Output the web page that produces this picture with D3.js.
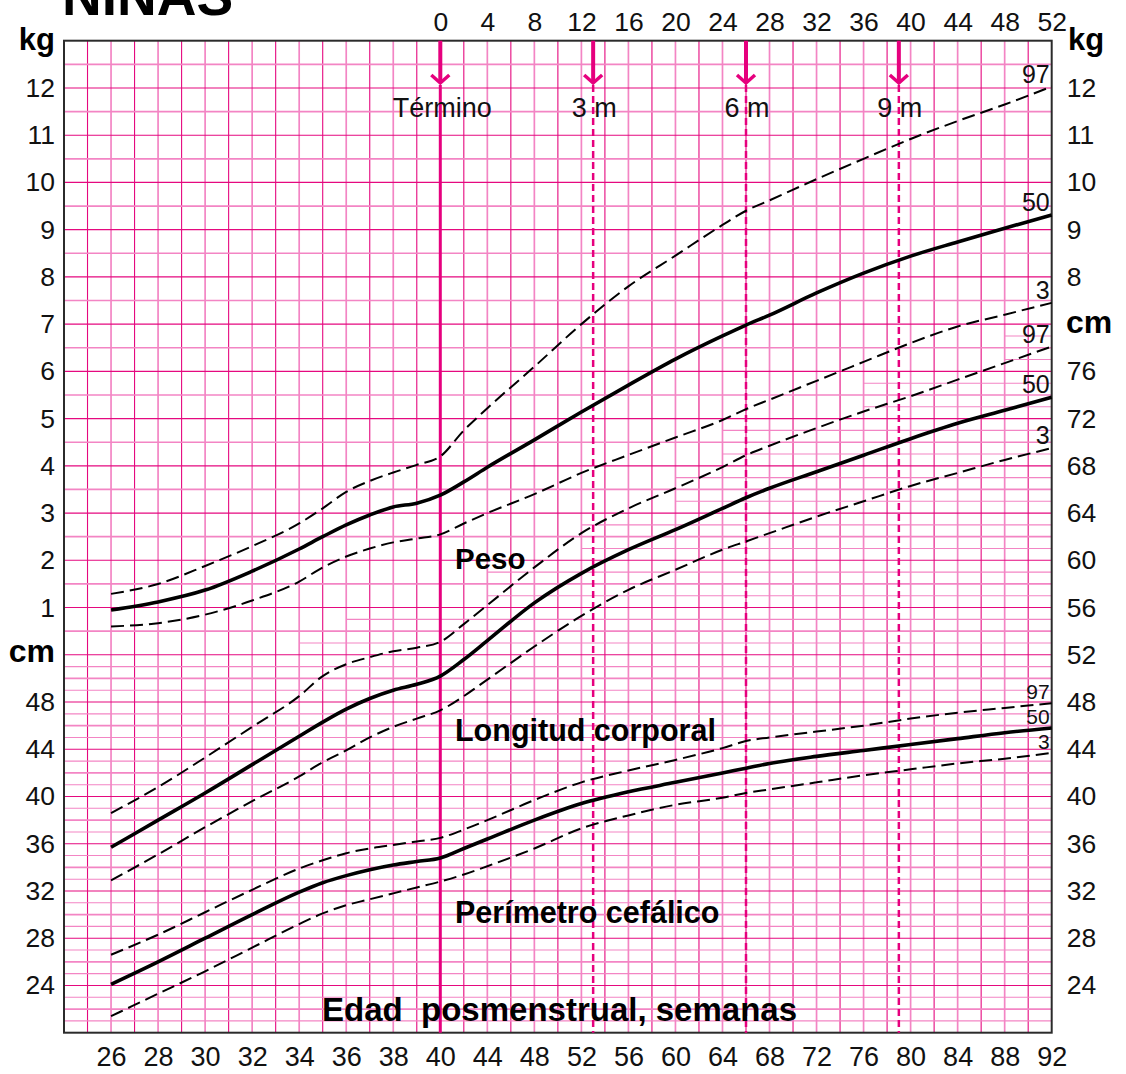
<!DOCTYPE html>
<html>
<head>
<meta charset="utf-8">
<script src="https://cdn.jsdelivr.net/npm/d3@7"></script>
<style>
  body { margin: 0; background: #fff; }
  svg { display: block; font-family: "Liberation Sans", Arial, Helvetica, sans-serif; }
  text { white-space: pre; }
</style>
</head>
<body>
<svg id="chart" width="1126" height="1074"></svg>
<script>
const weeks = [26, 28, 30, 32, 34, 35, 36, 37, 38, 39, 40, 42, 44, 48, 52, 56, 60, 64, 66, 68, 72, 76, 80, 84, 88, 92];

// weight, kg
const weightP97 = [1.29, 1.50, 1.88, 2.30, 2.78, 3.10, 3.45, 3.68, 3.86, 4.02, 4.20, 4.75, 5.22, 6.10, 7.00, 7.80, 8.45, 9.10, 9.40, 9.62, 10.07, 10.50, 10.92, 11.30, 11.65, 12.03];
const weightP50 = [0.95, 1.12, 1.37, 1.77, 2.24, 2.50, 2.75, 2.96, 3.13, 3.21, 3.38, 3.66, 3.97, 4.55, 5.14, 5.71, 6.26, 6.75, 6.98, 7.19, 7.66, 8.08, 8.44, 8.74, 9.03, 9.31];
const weightP3  = [0.60, 0.67, 0.85, 1.15, 1.55, 1.85, 2.08, 2.25, 2.38, 2.46, 2.55, 2.78, 3.00, 3.40, 3.85, 4.23, 4.60, 4.97, 5.20, 5.40, 5.80, 6.20, 6.60, 6.95, 7.20, 7.45];

// length, cm
const lengthP97 = [38.6, 40.8, 43.3, 45.9, 48.5, 50.2, 51.2, 51.8, 52.3, 52.6, 53.1, 54.6, 56.2, 59.4, 62.3, 64.4, 66.1, 67.9, 68.9, 69.7, 71.2, 72.6, 73.9, 75.3, 76.7, 78.1];
const lengthP50 = [35.7, 38.0, 40.3, 42.7, 45.1, 46.3, 47.4, 48.3, 49.0, 49.5, 50.2, 51.6, 53.2, 56.4, 58.9, 60.9, 62.6, 64.4, 65.3, 66.1, 67.5, 68.9, 70.3, 71.6, 72.7, 73.8];
const lengthP3  = [32.9, 35.1, 37.4, 39.6, 41.7, 42.9, 43.9, 45.0, 45.9, 46.6, 47.3, 48.5, 49.9, 52.7, 55.3, 57.5, 59.2, 60.9, 61.6, 62.3, 63.7, 65.0, 66.3, 67.4, 68.5, 69.5];

// head circumference, cm
const headP97 = [26.6, 28.3, 30.2, 32.1, 33.9, 34.6, 35.2, 35.6, 35.9, 36.2, 36.5, 37.2, 38.0, 39.7, 41.2, 42.2, 43.1, 44.1, 44.7, 45.0, 45.5, 46.0, 46.6, 47.1, 47.5, 47.9];
const headP50 = [24.1, 26.0, 28.0, 30.0, 31.9, 32.7, 33.3, 33.8, 34.2, 34.5, 34.8, 35.6, 36.4, 38.0, 39.4, 40.4, 41.2, 42.0, 42.4, 42.8, 43.4, 43.9, 44.4, 44.9, 45.4, 45.8];
const headP3  = [21.4, 23.3, 25.2, 27.2, 29.2, 30.1, 30.8, 31.3, 31.8, 32.3, 32.8, 33.4, 34.1, 35.6, 37.3, 38.4, 39.3, 39.9, 40.3, 40.6, 41.2, 41.8, 42.3, 42.8, 43.2, 43.7];

// tick labels
const bottomTicks = [26, 28, 30, 32, 34, 36, 38, 40, 44, 48, 52, 56, 60, 64, 68, 72, 76, 80, 84, 88, 92];
const topTicks = d3.range(0, 53, 4);
const kgTicksLeft = d3.range(1, 13);
const kgTicksRight = [8, 9, 10, 11, 12];
const cmTicksLeft = [24, 28, 32, 36, 40, 44, 48];
const cmTicksRight = d3.range(24, 77, 4);

// weeks after term for the age markers
const markerLabels = ['Término', '3 m', '6 m', '9 m'];
const markerWeeks = [0, 13, 26, 39];

// extra 1-cm lines inside the weight area: first week, cm
const fineWeeks = [34, 36, 44, 44, 52, 52, 60, 60, 64, 64, 76, 76, 88, 88];
const fineCm    = [53, 55, 57, 59, 61, 63, 65, 67, 69, 71, 73, 75, 77, 79];

// ---------------------------------------------------------------
const plotL = 64, plotR = 1051.7, plotT = 40.7, plotB = 1032.7;
const DARK = '#e5097f', LIGHT = '#f385c4', MAG = '#e6007e';

const svg = d3.select('#chart');

const x = d3.scaleLinear().domain([24, 40, 92]).range([plotL, 440.3, plotR]);
const xTerm = d3.scaleLinear().domain([0, 52]).range([x(40), plotR]);
const yKg = d3.scaleLinear().domain([0, 13]).range([654.8, plotT]);
const yCm = d3.scaleLinear().domain([20, 52]).range([plotB, 654.8]);

// grid ----------------------------------------------------------
const grid = svg.append('g');

const isLightV = d => d < 40 ? d % 2 === 0 : d % 4 === 0;
const vLines = d3.range(25, 40).concat(d3.range(42, 91, 2));
grid.selectAll('line.v')
  .data(vLines)
  .join('line')
  .attr('x1', d => x(d)).attr('x2', d => x(d))
  .attr('y1', plotT).attr('y2', plotB)
  .attr('stroke', d => isLightV(d) ? LIGHT : DARK)
  .attr('stroke-width', d => isLightV(d) ? 1.7 : 1.1);

const kgLines = d3.range(0, 13, 0.5);
grid.selectAll('line.kg')
  .data(kgLines)
  .join('line')
  .attr('x1', plotL).attr('x2', plotR)
  .attr('y1', d => yKg(d)).attr('y2', d => yKg(d))
  .attr('stroke', d => Number.isInteger(d) ? DARK : LIGHT)
  .attr('stroke-width', d => Number.isInteger(d) ? 1.1 : 1.7);

const cmLines = d3.range(21, 52);
grid.selectAll('line.cm')
  .data(cmLines)
  .join('line')
  .attr('x1', plotL).attr('x2', plotR)
  .attr('y1', d => yCm(d)).attr('y2', d => yCm(d))
  .attr('stroke', d => d % 4 === 0 ? DARK : LIGHT)
  .attr('stroke-width', d => d % 4 === 0 ? 1.1 : (d % 2 === 0 ? 1.7 : 1.1));

grid.selectAll('line.fine')
  .data(fineCm.map((c, i) => ({ c, w: fineWeeks[i] })))
  .join('line')
  .attr('x1', d => x(d.w)).attr('x2', plotR)
  .attr('y1', d => yCm(d.c)).attr('y2', d => yCm(d.c))
  .attr('stroke', LIGHT)
  .attr('stroke-width', 1.1);

svg.append('rect')
  .attr('x', plotL).attr('y', plotT)
  .attr('width', plotR - plotL).attr('height', plotB - plotT)
  .attr('fill', 'none').attr('stroke', '#2b2b2b').attr('stroke-width', 2);

// age markers ---------------------------------------------------
const markers = svg.append('g');
markerWeeks.forEach((w, i) => {
  const mx = xTerm(w);
  markers.append('line')
    .attr('x1', mx).attr('x2', mx).attr('y1', plotT).attr('y2', 82)
    .attr('stroke', MAG).attr('stroke-width', 4);
  markers.append('polyline')
    .attr('points', `${mx - 9},75 ${mx},83 ${mx + 9},75`)
    .attr('fill', 'none').attr('stroke', MAG).attr('stroke-width', 3.5);
  markers.append('line')
    .attr('x1', mx).attr('x2', mx).attr('y1', 85).attr('y2', plotB)
    .attr('stroke', MAG)
    .attr('stroke-width', i === 0 ? 3 : 2.5)
    .attr('stroke-dasharray', i === 0 ? null : '7,4');
  markers.append('text')
    .attr('x', mx + (i === 0 ? 2 : 1)).attr('y', 117)
    .attr('text-anchor', 'middle')
    .attr('font-size', 27)
    .attr('fill', '#111')
    .text(markerLabels[i]);
});

// curves --------------------------------------------------------
const series = [
  { vals: weightP97, y: yKg, dashed: true, label: '97', fs: 25 },
  { vals: weightP50, y: yKg, dashed: false, label: '50', fs: 25 },
  { vals: weightP3, y: yKg, dashed: true, label: '3', fs: 25 },
  { vals: lengthP97, y: yCm, dashed: true, label: '97', fs: 25 },
  { vals: lengthP50, y: yCm, dashed: false, label: '50', fs: 25 },
  { vals: lengthP3, y: yCm, dashed: true, label: '3', fs: 25 },
  { vals: headP97, y: yCm, dashed: true, label: '97', fs: 21 },
  { vals: headP50, y: yCm, dashed: false, label: '50', fs: 21 },
  { vals: headP3, y: yCm, dashed: true, label: '3', fs: 21 }
];

const curves = svg.append('g');
series.forEach(s => {
  const line = d3.line()
    .x((d, i) => x(weeks[i]))
    .y(d => s.y(d))
    .curve(d3.curveMonotoneX);
  curves.append('path')
    .attr('d', line(s.vals))
    .attr('fill', 'none')
    .attr('stroke', '#000')
    .attr('stroke-width', s.dashed ? 2 : 3.6)
    .attr('stroke-dasharray', s.dashed ? '13,6' : null);
  curves.append('text')
    .attr('x', plotR - 2)
    .attr('y', s.y(s.vals[s.vals.length - 1]) - 4)
    .attr('text-anchor', 'end')
    .attr('font-size', s.fs)
    .attr('fill', '#111')
    .text(s.label);
});

// axes ----------------------------------------------------------
function styleAxis(g, size) {
  g.select('.domain').remove();
  g.selectAll('.tick line').remove();
  g.selectAll('text').attr('font-size', size).attr('fill', '#111')
    .attr('font-family', '"Liberation Sans", Arial, sans-serif');
}

svg.append('g').attr('transform', `translate(${plotL},0)`)
  .call(d3.axisLeft(yKg).tickValues(kgTicksLeft).tickSize(0).tickPadding(9))
  .call(g => styleAxis(g, 26.5));
svg.append('g').attr('transform', `translate(${plotL},0)`)
  .call(d3.axisLeft(yCm).tickValues(cmTicksLeft).tickSize(0).tickPadding(9))
  .call(g => styleAxis(g, 26.5));
svg.append('g').attr('transform', `translate(${plotR},0)`)
  .call(d3.axisRight(yKg).tickValues(kgTicksRight).tickSize(0).tickPadding(15))
  .call(g => styleAxis(g, 26.5));
svg.append('g').attr('transform', `translate(${plotR},0)`)
  .call(d3.axisRight(yCm).tickValues(cmTicksRight).tickSize(0).tickPadding(15))
  .call(g => styleAxis(g, 26.5));
svg.append('g').attr('transform', `translate(0,${plotT})`)
  .call(d3.axisTop(xTerm).tickValues(topTicks).tickSize(0).tickPadding(10))
  .call(g => styleAxis(g, 26.5));
svg.append('g').attr('transform', `translate(0,${plotB})`)
  .call(d3.axisBottom(x).tickValues(bottomTicks).tickSize(0).tickPadding(14))
  .call(g => styleAxis(g, 27));

// unit and section labels ---------------------------------------
function bold(txt, px, py, size, anchor) {
  svg.append('text')
    .attr('x', px).attr('y', py)
    .attr('text-anchor', anchor || 'start')
    .attr('font-size', size)
    .attr('font-weight', 'bold')
    .attr('fill', '#000')
    .text(txt);
}

bold('NIÑAS', 62, 15, 55);
bold('kg', 55, 50, 31, 'end');
bold('kg', 1068, 50, 31);
bold('cm', 55, yKg(0) + 7, 32, 'end');
bold('cm', 1066, yCm(80) + 9, 32);

bold('Peso', x(41.25), yKg(1.82), 29.5);
bold('Longitud corporal', x(41.25), yCm(44.7), 30.5);
bold('Perímetro cefálico', x(41.25), yCm(29.3), 30.5);
bold('Edad  posmenstrual, semanas', x(34.97), yCm(20.95), 33);
</script>
</body>
</html>
